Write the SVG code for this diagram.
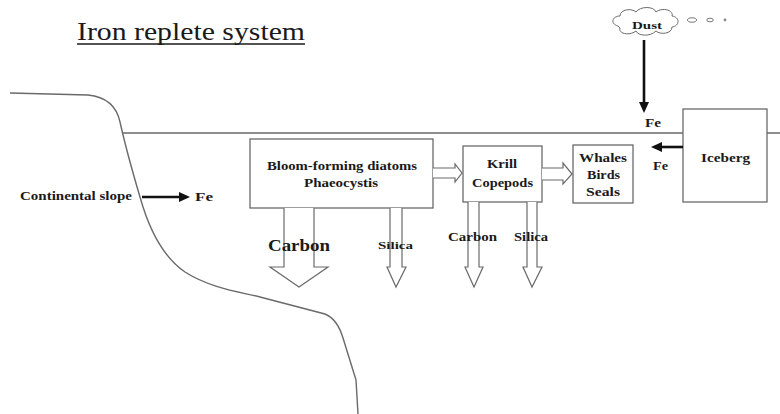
<svg xmlns="http://www.w3.org/2000/svg" width="780" height="414" viewBox="0 0 780 414">
<style>
.t{font-family:"Liberation Serif","Times New Roman",serif;font-weight:bold;fill:#1a1a1a;font-size:12px}
.box{fill:#fff;stroke:#6a6a6a;stroke-width:1.3}
.hollow{fill:#fff;stroke:#6a6a6a;stroke-width:1.2;stroke-linejoin:miter}
.geo{fill:none;stroke:#6a6a6a;stroke-width:1.4}
.solid{stroke:#111;stroke-width:2.6;fill:none}
.head{fill:#111}
</style>
<rect width="780" height="414" fill="#fff"/>
<text x="77" y="40" style="font-family:'Liberation Serif','Times New Roman',serif;font-size:26px;fill:#1a1a1a" textLength="228" lengthAdjust="spacingAndGlyphs">Iron replete system</text>
<line x1="77" y1="44" x2="305" y2="44" stroke="#1a1a1a" stroke-width="1.3"/>
<g id="slope">
<path class="geo" d="M10,93 L88,95 C108,97 117,108 120,122 C124,140 132,170 140,197 C147,222 160,255 185,272 C210,288 240,292 260,297 L325,314 C335,318 340,328 343,338 L356,380 L358,414"/>
<path class="geo" d="M122,133 H683 M767,133 H780"/>
</g>
<g id="dust">
<path d="M618,26 C610,24 612,16 620,16 C620,9 632,8 636,12 C640,6 654,6 656,12 C662,7 674,10 672,16 C680,17 680,26 672,27 C672,34 660,35 656,31 C650,37 638,36 636,31 C630,36 618,34 620,28 Z" fill="#fff" stroke="#6a6a6a" stroke-width="1"/>
<text class="t" x="632" y="29" style="font-size:11px" textLength="30" lengthAdjust="spacingAndGlyphs">Dust</text>
<ellipse cx="692" cy="20" rx="4.5" ry="2.2" fill="none" stroke="#777" stroke-width="1"/>
<ellipse cx="710" cy="20" rx="3.2" ry="1.8" fill="none" stroke="#777" stroke-width="1"/>
<circle cx="725" cy="20" r="1.4" fill="#888"/>
</g>
<g id="bloom">
<rect class="box" x="250" y="139" width="183" height="69"/>
<text class="t" x="267" y="170" textLength="150" lengthAdjust="spacingAndGlyphs">Bloom-forming diatoms</text>
<text class="t" x="304" y="187" textLength="74" lengthAdjust="spacingAndGlyphs">Phaeocystis</text>
</g>
<g id="krill">
<rect class="box" x="463" y="146" width="79" height="56"/>
<text class="t" x="487" y="168" textLength="30" lengthAdjust="spacingAndGlyphs">Krill</text>
<text class="t" x="472" y="187" textLength="61" lengthAdjust="spacingAndGlyphs">Copepods</text>
</g>
<g id="whales">
<rect class="box" x="573" y="145" width="60" height="58"/>
<text class="t" x="579" y="162" textLength="48" lengthAdjust="spacingAndGlyphs">Whales</text>
<text class="t" x="587" y="179" textLength="33" lengthAdjust="spacingAndGlyphs">Birds</text>
<text class="t" x="586" y="196" textLength="34" lengthAdjust="spacingAndGlyphs">Seals</text>
</g>
<g id="iceberg">
<rect class="box" x="683" y="109" width="84" height="93"/>
<text class="t" x="701" y="162" textLength="49" lengthAdjust="spacingAndGlyphs">Iceberg</text>
</g>
<g id="connectors">
<path class="hollow" d="M433,168 H455 V164 L462,173 L455,182 V178 H433"/>
<path class="hollow" d="M542,168 H563 V163 L572,174 L563,184 V180 H542"/>
<path class="hollow" d="M284,208 V267 H270 L299,287 L328,267 H314 V208"/>
<path class="hollow" d="M390,208 V267 H387 L396,287 L406,267 H402 V208"/>
<path class="hollow" d="M468,202 V267 H465 L474,287 L483,267 H479 V202"/>
<path class="hollow" d="M527,202 V267 H523 L532,287 L542,267 H537 V202"/>
<line class="solid" x1="644" y1="40" x2="644" y2="104"/>
<polygon class="head" points="639,102 649,102 644,113"/>
<line class="solid" x1="683" y1="147" x2="660" y2="147"/>
<polygon class="head" points="662,142 662,152 651,147"/>
<line class="solid" x1="142" y1="197" x2="181" y2="197"/>
<polygon class="head" points="179,192 179,202 190,197"/>
</g>
<g id="labels">
<text class="t" x="268" y="251" style="font-size:16px" textLength="62" lengthAdjust="spacingAndGlyphs">Carbon</text>
<text class="t" x="378" y="249" style="font-size:11px" textLength="35" lengthAdjust="spacingAndGlyphs">Silica</text>
<text class="t" x="448" y="241" textLength="49" lengthAdjust="spacingAndGlyphs">Carbon</text>
<text class="t" x="514" y="241" textLength="34" lengthAdjust="spacingAndGlyphs">Silica</text>
<text class="t" x="20" y="200" textLength="112" lengthAdjust="spacingAndGlyphs">Continental slope</text>
<text class="t" x="195" y="201" textLength="18" lengthAdjust="spacingAndGlyphs">Fe</text>
<text class="t" x="645" y="127" textLength="16" lengthAdjust="spacingAndGlyphs">Fe</text>
<text class="t" x="653" y="170" textLength="15" lengthAdjust="spacingAndGlyphs">Fe</text>
</g>
</svg>
